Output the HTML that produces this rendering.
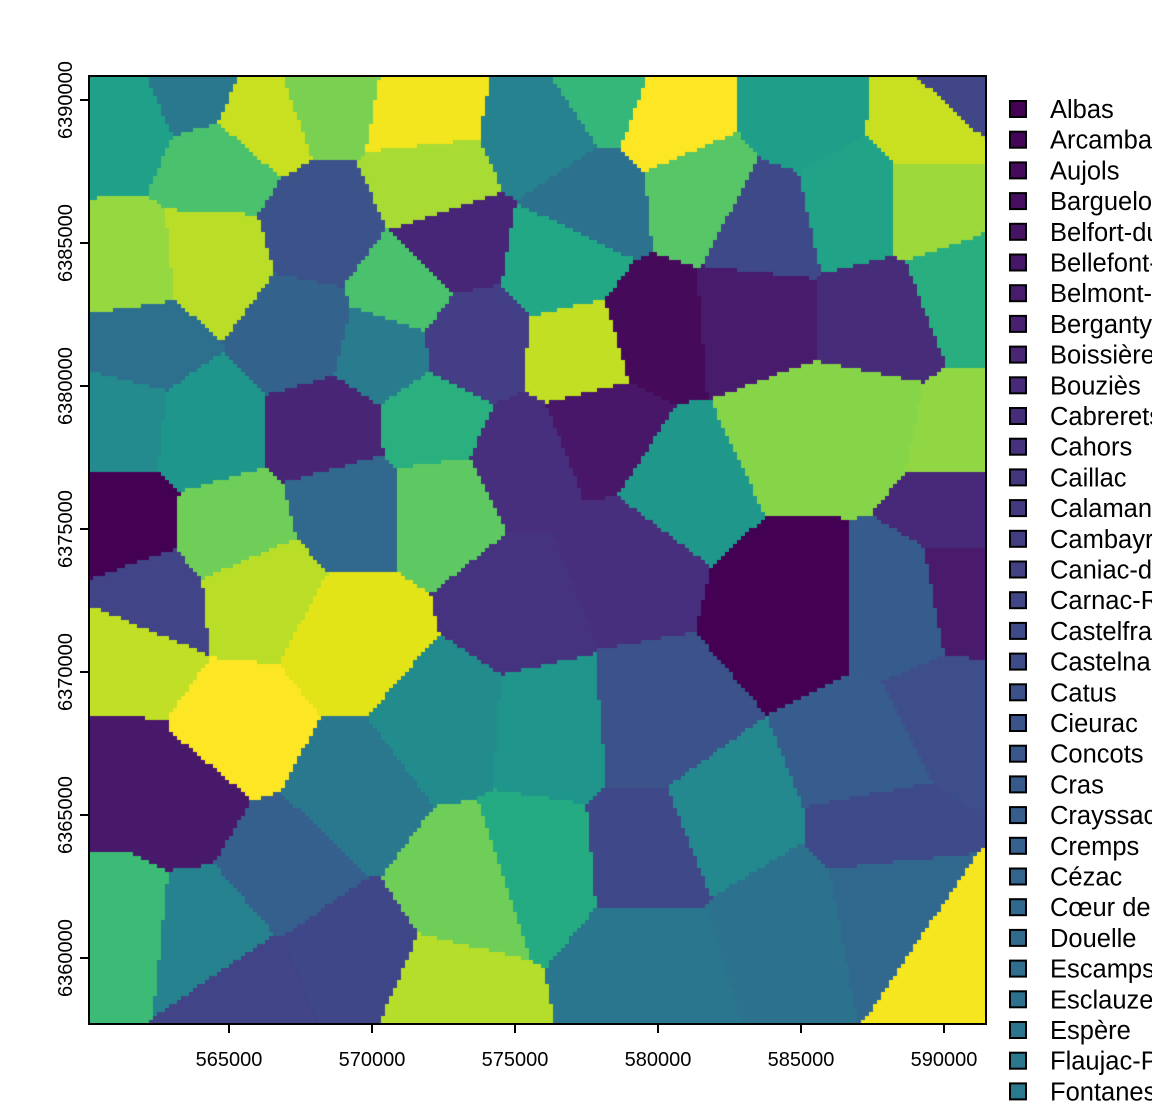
<!DOCTYPE html>
<html><head><meta charset="utf-8">
<style>
html,body{margin:0;padding:0;background:#fff;width:1152px;height:1102px;overflow:hidden;position:relative;font-family:"Liberation Sans",Arial,sans-serif;}
#map{position:absolute;left:89px;top:76px;}
svg{position:absolute;left:0;top:0;}
</style></head>
<body>
<canvas id="map" width="897" height="948"></canvas>
<svg id="axes" width="1152" height="1102"></svg>
<script>
// Seed locations (km) of each commune region and their colours
const seedEast = [561.2,563.8,565.9,571.7,568.4,564.5,561.5,564.3,568.2,572.7,572.0,571.0,575.9,578.0,580.4,577.6,576.6,581.5,583.6,586.7,589.5,589.5,585.0,590.6,577.3,579.7,583.2,587.8,590.6,561.9,561.2,564.0,567.5,570.3,573.4,568.5,569.2,572.0,575.2,572.4,578.0,580.8,584.6,587.1,590.6,590.6,561.2,565.0,565.9,561.5,562.2,569.2,575.2,578.7,584.6,588.5,590.6,565.4,561.2,563.3,572.4,569.2,576.2,579.7,582.2,587.4,590.2,561.2,564.0,566.8,569.2,573.4,575.5,572.4,565.7,579.7,579.7,584.3,588.1,590.6,587.8];
const seedNorth = [6389.3,6390.4,6389.5,6389.8,6390.4,6387.9,6384.1,6384.4,6385.5,6385.1,6387.2,6383.4,6389.0,6390.4,6389.5,6386.5,6384.4,6386.9,6385.8,6386.5,6386.5,6389.3,6389.7,6390.5,6381.3,6382.0,6382.3,6382.3,6383.4,6381.6,6378.8,6378.5,6382.0,6381.3,6381.6,6378.5,6376.0,6378.8,6377.4,6376.0,6378.5,6376.7,6378.5,6378.8,6378.1,6376.0,6375.3,6375.0,6372.9,6370.8,6372.5,6371.1,6372.5,6373.9,6372.5,6372.5,6372.9,6368.0,6366.2,6365.5,6368.3,6365.9,6368.0,6368.3,6364.8,6366.9,6368.3,6361.3,6361.0,6363.4,6359.9,6362.7,6363.4,6358.5,6358.5,6363.8,6359.9,6361.3,6362.0,6360.3,6364.8];
const seedColor = ["#1fa088","#2a788e","#c8e020","#f3e51e","#7ad151","#4ac16d","#95d840","#bade28","#3b528b","#482677","#a8db34","#4ac16d","#26828e","#35b779","#fde725","#2c728e","#22a884","#56c667","#3e4989","#20a386","#9dd93b","#c8e020","#1f9e89","#404688","#c2df23","#450b5a","#481b6d","#472c7a","#29af7f","#2d708e","#238a8d","#1f968b","#33638d","#297b8e","#433e85","#482575","#31688e","#2ab07f","#472f7d","#5ec962","#481769","#1f988b","#86d549","#86d549","#90d743","#482878","#440154","#6ece58","#bade28","#c0df25","#414487","#e2e418","#46337f","#472f7d","#440154","#365c8d","#4a1b6c","#fde725","#48186a","#48186a","#228c8d","#2a788e","#1f958b","#3b528b","#23898e","#365d8d","#3d4e8a","#3bbb75","#26828e","#355f8d","#3f4788","#6ece58","#25ab82","#b5de2b","#414487","#3f4889","#2a768e","#2c728e","#31688e","#f5e61f","#3e4a89"];
const xTicks = [565000,570000,575000,580000,585000,590000];
const yTicks = [6360000,6365000,6370000,6375000,6380000,6385000,6390000];
const legendNames = ["Albas","Arcambal","Aujols","Barguelonne-en-Quercy","Belfort-du-Quercy","Bellefont-La Rauze","Belmont-Sainte-Foi","Berganty","Boissières","Bouziès","Cabrerets","Cahors","Caillac","Calamane","Cambayrac","Caniac-du-Causse","Carnac-Rouffiac","Castelfranc","Castelnau-Montratier","Catus","Cieurac","Concots","Cras","Crayssac","Cremps","Cézac","Cœur de Causse","Douelle","Escamps","Esclauzels","Espère","Flaujac-Poujols","Fontanes"];

const xs = km => 229 + (km - 565) * 28.6;
const ys = km => 100 + (6390 - km) * 28.6;

const cv = document.getElementById('map');
const ctx = cv.getContext('2d');
const W = cv.width, H = cv.height;
const img = ctx.createImageData(W, H);
const sx = seedEast.map(v => xs(v) - 89), sy = seedNorth.map(v => ys(v) - 76);
const rgb = seedColor.map(c => [parseInt(c.slice(1,3),16),parseInt(c.slice(3,5),16),parseInt(c.slice(5,7),16)]);
for (let y = 0; y < H; y += 4) for (let x = 0; x < W; x += 4) {
  let best = 0, bd = 1e12;
  for (let i = 0; i < sx.length; i++) { const dx = x - sx[i], dy = y - sy[i], d = dx*dx + dy*dy; if (d < bd) { bd = d; best = i; } }
  const c = rgb[best];
  for (let yy = y; yy < Math.min(y+4,H); yy++) for (let xx = x; xx < Math.min(x+4,W); xx++) {
    const p = (yy*W + xx)*4; img.data[p]=c[0]; img.data[p+1]=c[1]; img.data[p+2]=c[2]; img.data[p+3]=255;
  }
}
ctx.putImageData(img, 0, 0);

const NS = 'http://www.w3.org/2000/svg';
const svg = document.getElementById('axes');
function mk(tag, attrs) {
  const e = document.createElementNS(NS, tag);
  for (const k in attrs) e.setAttribute(k, attrs[k]);
  svg.appendChild(e); return e;
}
const frame = mk('rect', {x:89, y:76, width:897, height:948, fill:'none', stroke:'#000', 'stroke-width':2});


xTicks.forEach(v => {
  const px = xs(v/1000);
  const t = mk('line', {x1:px, x2:px, y1:1024, y2:1033, stroke:'#000', 'stroke-width':2});
  
  
  const l = mk('text', {x:px, y:1066, 'text-anchor':'middle', 'font-size':20});
  
  
  l.textContent = v;
});
yTicks.forEach(v => {
  const py = ys(v/1000);
  const t = mk('line', {x1:80, x2:89, y1:py, y2:py, stroke:'#000', 'stroke-width':2});
  
  
  const l = mk('text', {x:0, y:0, 'text-anchor':'middle', 'font-size':20, transform:`translate(72,${py}) rotate(-90)`});
  
  
  l.textContent = v;
});
const vir = [[68,1,84],[72,40,120],[62,74,137],[49,104,142],[38,130,142],[31,158,137],[53,183,121],[109,205,89],[180,222,44],[253,231,37]];
function virC(t){ const f=t*(vir.length-1), i=Math.min(Math.floor(f),vir.length-2), r=f-i; return 'rgb('+vir[i].map((c,k)=>Math.round(c+(vir[i+1][k]-c)*r)).join(',')+')'; }
legendNames.forEach((n, i) => {
  const y = 109 + i * 30.7;
  const sq = mk('rect', {x:1010, y:y-8, width:16, height:16, fill:virC(i*0.0128), stroke:'#000', 'stroke-width':2});
  
  
  const t = mk('text', {x:1050, y:y+9, 'font-size':25.5});
  
  
  t.textContent = n;
});
</script>
</body></html>
